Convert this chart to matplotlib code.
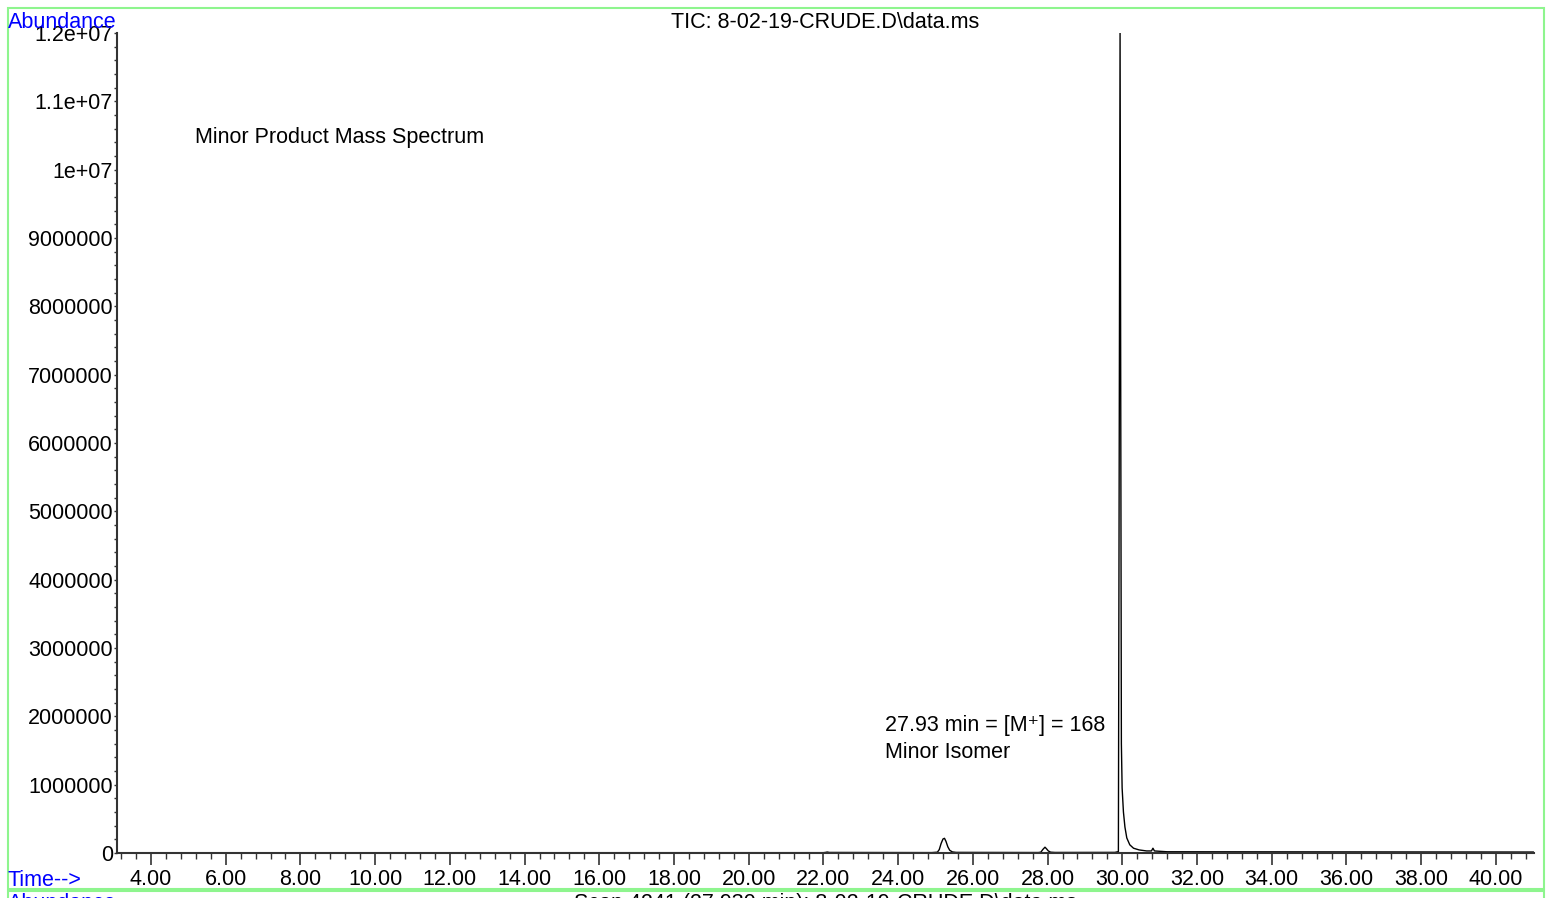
import matplotlib
matplotlib.use('Agg')
import matplotlib.pyplot as plt
from matplotlib.ticker import MultipleLocator, FuncFormatter
from matplotlib.patches import Rectangle

plt.rcParams['font.family'] = ['Liberation Sans', 'DejaVu Sans']

# TIC trace (retention time in min, abundance)
times = [3.2, 22.0, 22.06, 22.1, 22.16, 24.9, 25.05, 25.10, 25.15, 25.20, 25.24,
         25.28, 25.33, 25.38, 25.45, 25.55, 27.75, 27.82, 27.87, 27.93, 27.97,
         28.02, 28.08, 28.2, 29.80, 29.895, 29.94, 29.975, 29.995, 30.03, 30.07,
         30.12, 30.2, 30.3, 30.45, 30.65, 30.78, 30.82, 30.86, 31.2, 41.0]
abundance = [4000, 5000, 9000, 14000, 8000, 6000, 12000, 50000, 140000, 205000,
             215000, 170000, 90000, 40000, 16000, 9000, 7000, 12000, 50000,
             85000, 62000, 30000, 12000, 8000, 9000, 20000, 12000000, 1600000,
             950000, 600000, 380000, 220000, 120000, 70000, 45000, 30000, 30000,
             70000, 30000, 18000, 14000]

x_ticks = [4, 6, 8, 10, 12, 14, 16, 18, 20, 22, 24, 26, 28, 30, 32, 34, 36, 38, 40]
y_ticks = [0, 1e6, 2e6, 3e6, 4e6, 5e6, 6e6, 7e6, 8e6, 9e6, 1e7, 1.1e7, 1.2e7]
y_labels = ['0', '1000000', '2000000', '3000000', '4000000', '5000000', '6000000',
            '7000000', '8000000', '9000000', '1e+07', '1.1e+07', '1.2e+07']

W, H = 1551, 898
fig = plt.figure(figsize=(W / 100, H / 100), dpi=100)

# green panel frames
green = '#8ef58e'
fig.patches.append(Rectangle((8 / W, 1 - 889 / H), 1536 / W, 881 / H,
                             transform=fig.transFigure, fill=False,
                             edgecolor=green, linewidth=1.5))
fig.patches.append(Rectangle((8 / W, -0.2), 1536 / W, 0.2 + 1 - 891 / H,
                             transform=fig.transFigure, fill=False,
                             edgecolor=green, linewidth=1.5))

ax = fig.add_axes([117 / W, 1 - 853 / H, (1534 - 117) / W, (853 - 33) / H])
ax.plot(times, abundance, color='black', linewidth=1.0)

ax.set_xlim(3.09, 41.02)
ax.set_ylim(0, 1.2e7)

for s in ['top', 'right']:
    ax.spines[s].set_visible(False)
for s in ['left', 'bottom']:
    ax.spines[s].set_color('#333333')
    ax.spines[s].set_linewidth(1.5)

fs = 15.5

ax.set_xticks(x_ticks)
ax.xaxis.set_major_formatter(FuncFormatter(lambda v, p: f'{v:.2f}'))
ax.xaxis.set_minor_locator(MultipleLocator(0.4))
ax.set_yticks(y_ticks)
ax.set_yticklabels(y_labels)
ax.yaxis.set_minor_locator(MultipleLocator(200000))

ax.tick_params(axis='x', which='major', direction='out', length=8.5, width=1.2,
               color='#333333', labelsize=fs, pad=3)
ax.tick_params(axis='x', which='minor', direction='out', length=4.5, width=1.0,
               color='#333333')
ax.tick_params(axis='y', which='both', direction='out', length=2, width=1.0,
               color='#333333', labelsize=fs, pad=1)

fig.text(825 / W, 1 - 23 / H, 'TIC: 8-02-19-CRUDE.D\\data.ms', ha='center',
         va='center', fontsize=fs)
fig.text(8 / W, 1 - 23 / H, 'Abundance', ha='left', va='center', fontsize=fs,
         color='#0000ff')
fig.text(8 / W, 1 - 880 / H, 'Time-->', ha='left', va='center', fontsize=fs,
         color='#0000ff')
fig.text(195 / W, 1 - 137 / H, 'Minor Product Mass Spectrum', ha='left',
         va='center', fontsize=fs)
fig.text(885 / W, 1 - 726 / H, '27.93 min = [M\u207a] = 168', ha='left',
         va='center', fontsize=fs)
fig.text(885 / W, 1 - 752 / H, 'Minor Isomer', ha='left', va='center', fontsize=fs)

# header of the next panel, clipped by the bottom edge
fig.text(8 / W, 1 - 893 / H, 'Abundance', ha='left', va='top', fontsize=fs,
         color='#0000ff')
fig.text(825 / W, 1 - 893 / H, 'Scan 4241 (27.930 min): 8-02-19-CRUDE.D\\data.ms',
         ha='center', va='top', fontsize=fs)

fig.savefig('out.png', dpi=100)
